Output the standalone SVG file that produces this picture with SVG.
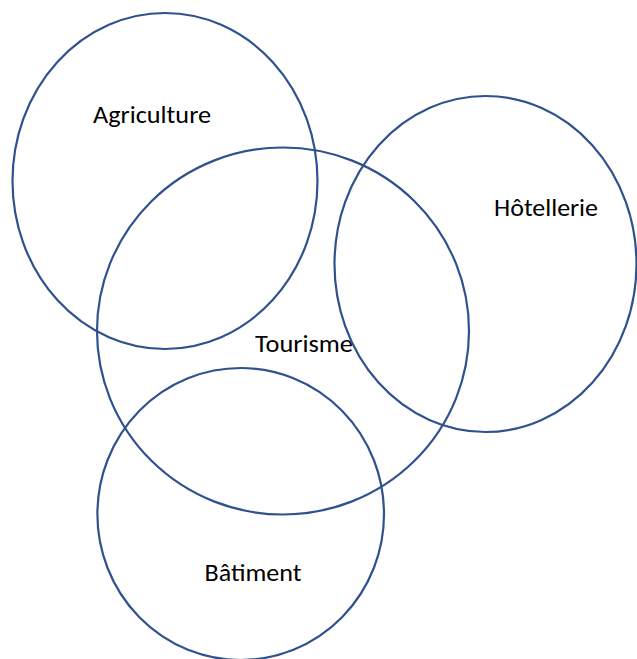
<svg xmlns="http://www.w3.org/2000/svg" width="637" height="659" viewBox="0 0 637 659">
<style>
.c{fill:none;stroke:#2F528F;stroke-width:2.2}
.t{font-family:Carlito,"Liberation Sans","Open Sans",sans-serif;font-size:23.5px;fill:#000}
</style>
<rect width="637" height="659" fill="#fff"/>
<g id="agriculture">
<ellipse class="c" cx="165" cy="181" rx="152.5" ry="168"/>
<text class="t" x="93" y="122.5" textLength="118" lengthAdjust="spacingAndGlyphs">Agriculture</text>
</g>
<g id="tourisme">
<ellipse class="c" cx="283" cy="331" rx="186" ry="183.5"/>
<text class="t" x="255" y="351.5" textLength="98" lengthAdjust="spacingAndGlyphs">Tourisme</text>
</g>
<g id="hotellerie">
<ellipse class="c" cx="485.5" cy="264" rx="151" ry="168"/>
<text class="t" x="494" y="215.5" textLength="104" lengthAdjust="spacingAndGlyphs">Hôtellerie</text>
</g>
<g id="batiment">
<ellipse class="c" cx="240.7" cy="514" rx="143.3" ry="146"/>
<text class="t" x="204.5" y="580.5" textLength="97" lengthAdjust="spacingAndGlyphs">Bâtiment</text>
</g>
<g id="connectors"></g>
</svg>
